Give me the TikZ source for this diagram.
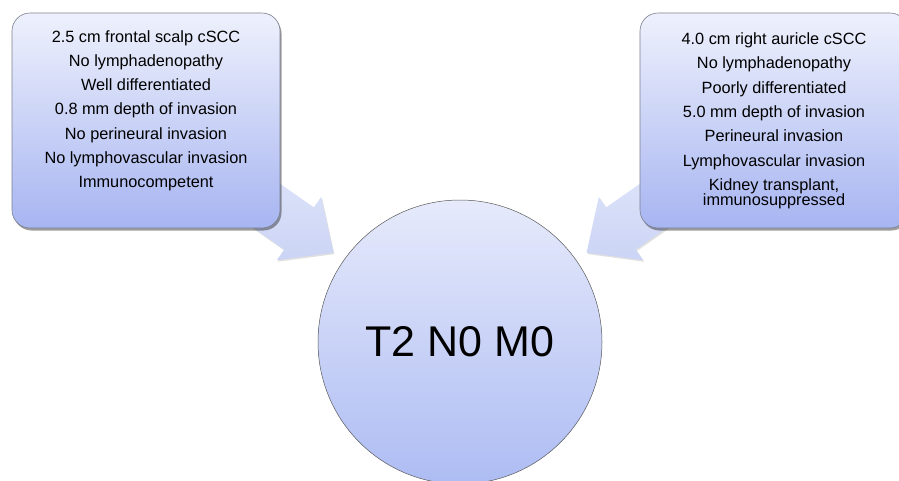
\documentclass[tikz,border=0pt]{standalone}
\usepackage{fontspec}
\setmainfont{Liberation Sans}
\usetikzlibrary{shadows}
\definecolor{boxtop}{HTML}{EEF1FC}
\definecolor{boxbot}{HTML}{A7B5F1}
\definecolor{boxline}{HTML}{7A7F90}
\definecolor{arrtop}{HTML}{E4E9FA}
\definecolor{arrbot}{HTML}{CBD4F5}
\definecolor{circtop}{HTML}{E6EAFB}
\definecolor{circbot}{HTML}{ADBCF3}
\begin{document}
\begin{tikzpicture}[x=1pt,y=-1pt,
  infobox/.style={rectangle, rounded corners=18pt, minimum width=268pt, minimum height=215pt,
    inner sep=0pt, top color=boxtop, bottom color=boxbot, draw=boxline, line width=0.6pt,
    drop shadow={shadow xshift=1.5pt, shadow yshift=-2.5pt, opacity=0.45, fill=black!85}},
  infotext/.style={align=center, anchor=north, inner sep=0pt, font=\fontsize{16.3}{24.3}\selectfont},
  blockarrow/.style={top color=arrtop, bottom color=arrbot,
    drop shadow={shadow xshift=1pt, shadow yshift=-1.5pt, opacity=0.12, fill=black}},
  stage/.style={circle, minimum size=284pt, inner sep=0pt, top color=circtop, bottom color=circbot,
    draw=gray!70!black, line width=0.5pt, font=\fontsize{43}{43}\selectfont}
]
\useasboundingbox (0,0) rectangle (899,480);
\clip (0,0) rectangle (899,480);
% block arrows (drawn first, boxes cover their tails)
\path[blockarrow] (215.5,138.5) -- (313.8,207.4) -- (321.2,196.8) -- (333.4,252.6)
  -- (276.8,260.2) -- (284.2,249.6) -- (185.9,180.7) -- cycle;
\path[blockarrow] (704.5,138.5) -- (606.2,207.4) -- (598.8,196.8) -- (586.6,252.6)
  -- (643.2,260.2) -- (635.8,249.6) -- (734.1,180.7) -- cycle;
% boxes
\node[infobox] (lbox) at (146,120.5) {};
\node[infobox] (rbox) at (774,120.5) {};
\node[infotext] (ltext) at (146,30) {2.5 cm frontal scalp cSCC\\No lymphadenopathy\\Well differentiated\\0.8 mm depth of invasion\\No perineural invasion\\No lymphovascular invasion\\Immunocompetent};
\node[infotext] (rtext) at (774,32.5) {4.0 cm right auricle cSCC\\No lymphadenopathy\\Poorly differentiated\\5.0 mm depth of invasion\\Perineural invasion\\Lymphovascular invasion\\Kidney transplant,\\[-9pt]immunosuppressed};
% central circle
\node[stage] (stage) at (460,342) {T2 N0 M0};
\end{tikzpicture}
\end{document}
